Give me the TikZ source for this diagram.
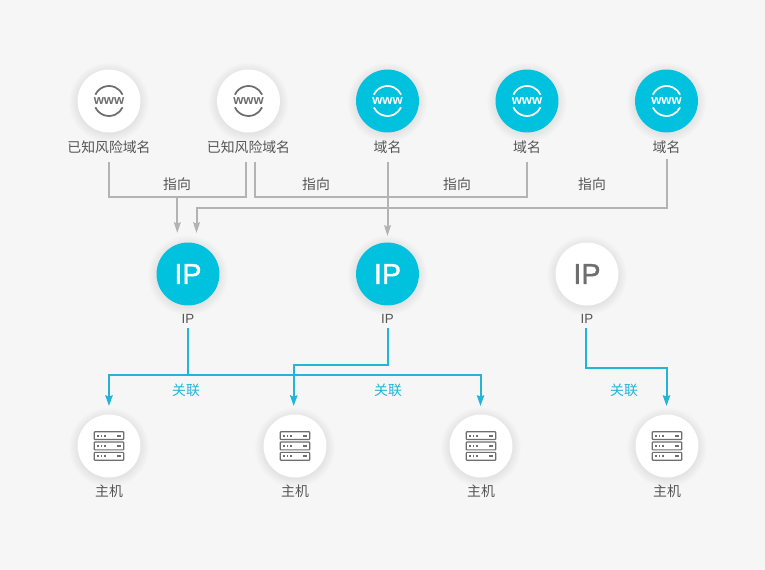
\documentclass[tikz,border=0pt]{standalone}
\usepackage{fontspec}
\setmainfont{Noto Sans CJK SC}
\newfontfamily\latinfont{Liberation Sans}
\newfontfamily\heavyfont[FakeBold=1.2]{Liberation Sans}
\usetikzlibrary{arrows.meta,calc,positioning}
\definecolor{PanelBg}{HTML}{F6F6F6}
\definecolor{NodeCyan}{HTML}{00C1DE}
\definecolor{LinkGray}{HTML}{B3B3B3}
\definecolor{LinkBlue}{HTML}{22B5D8}
\definecolor{LabelGray}{HTML}{555555}
\definecolor{IconGray}{HTML}{6E6E6E}
\tikzset{
  badge/.style={circle,minimum size=47.2pt,inner sep=0pt,fill=white},
  cyanbadge/.style={badge,fill=NodeCyan},
  caption/.style={text=LabelGray,font=\fontsize{10.4}{12}\selectfont,inner sep=0pt,minimum height=13.5pt},
  linktext/.style={font=\fontsize{10.4}{12}\selectfont,inner sep=0pt},
  graylink/.style={draw=LinkGray,line width=1.5pt},
  bluelink/.style={draw=LinkBlue,line width=1.5pt},
  graytip/.style={graylink,-{Stealth[length=8pt,width=5pt,inset=1pt]}},
  bluetip/.style={bluelink,-{Stealth[length=8pt,width=5.5pt,inset=1pt]}},
  pics/wwwicon/.style={code={
    \draw[\col,line width=1.3pt] (155:15) arc[start angle=155,end angle=25,radius=15];
    \draw[\col,line width=1.3pt] (205:15) arc[start angle=205,end angle=335,radius=15];
    \node[text=\col,inner sep=0pt,font=\latinfont\bfseries\fontsize{9.8}{10}\selectfont] {www};
  }},
  pics/servericon/.style={code={
    \foreach \yy in {-10.3,0,10.3}{
      \draw[IconGray,line width=0.9pt,rounded corners=0.5pt] (-14.7,\yy-3.9) rectangle (14.7,\yy+3.9);
      \foreach \dd in {-11,-7.5,-4}{
        \fill[IconGray] (\dd-0.9,\yy-0.9) rectangle (\dd+0.9,\yy+0.9);
      }
      \fill[IconGray] (7.5,\yy-0.9) rectangle (12,\yy+0.9);
    }
  }}
}
\newcommand{\softshadow}[2]{%
  \foreach \rr in {32,33,34,35,36,37,38,39,40}{
    \fill[black,opacity=0.006] (#1,#2+1.5) circle[radius=\rr];
  }
}
\begin{document}
\begin{tikzpicture}[x=0.75pt,y=-0.75pt]

  \useasboundingbox[fill=PanelBg] (0,0) rectangle (765,570);

  % top row
  \foreach \x/\nm/\sty/\col/\lab in {
    109/riskA/badge/IconGray/已知风险域名,
    248.5/riskB/badge/IconGray/已知风险域名,
    387.5/domA/cyanbadge/white/域名,
    527/domB/cyanbadge/white/域名,
    666.5/domC/cyanbadge/white/域名%
  }{
    \softshadow{\x}{101}
    \node[\sty] (\nm) at (\x,101) {};
    \pic at (\nm) {wwwicon};
    \node[caption] (\nm Label) at (\x,147) {\lab};
  }

  % ip row
  \foreach \x/\nm/\sty/\col in {
    188/ipA/cyanbadge/white,
    387.5/ipB/cyanbadge/white,
    587/ipC/badge/IconGray%
  }{
    \softshadow{\x}{274}
    \node[\sty,text=\col,font=\heavyfont\fontsize{21.5}{24}\selectfont] (\nm) at (\x,274) {IP};
    \node[caption,font=\latinfont\fontsize{10}{12}\selectfont] (\nm Label) at (\x,319) {IP};
  }

  % host row
  \foreach \x/\nm in {
    109/hostA,
    295/hostB,
    481/hostC,
    667/hostD%
  }{
    \softshadow{\x}{446}
    \node[badge] (\nm) at (\x,446) {};
    \pic at (\nm) {servericon};
    \node[caption] (\nm Label) at (\x,491) {主机};
  }

  % free ends of the gray links
  \coordinate (riskOutA) at (109,162);
  \coordinate (riskOutB) at (246,162);
  \coordinate (riskOutC) at (255,162);
  \coordinate (domOutA) at (387.5,162);
  \coordinate (domOutB) at (527,162);
  \coordinate (domOutC) at (666.5,159);
  \coordinate (joinA) at (177.3,197.5);
  \coordinate (ipInA) at (177.3,233);
  \coordinate (ipInB) at (196.5,233);
  \coordinate (ipInC) at (387.5,236);

  \draw[graylink] (riskOutA) |- (joinA) -| (riskOutB);
  \draw[graytip] (joinA) -- (ipInA);
  \draw[graylink] (riskOutC) |- (domOutB |- joinA) -- (domOutB);
  \draw[graytip] (domOutC) |- (196.5,207.7) -- (ipInB);
  \draw[graytip] (domOutA) -- (ipInC);

  % free ends of the blue links
  \coordinate (hostInA) at (109,406);
  \coordinate (hostInB) at (293.7,406);
  \coordinate (hostInC) at (480.5,406);
  \coordinate (hostInD) at (666.5,406);

  \draw[bluelink] (ipALabel.south) -- (188,375);
  \draw[bluetip] (188,375) -| (hostInA);
  \draw[bluetip] (188,375) -| (hostInC);
  \draw[bluetip] (ipBLabel.south) |- (293.7,365.2) -- (hostInB);
  \draw[bluetip] (586,328) |- (666.5,368) -- (hostInD);

  % link labels
  \foreach \x/\nm in {177/pointA,316/pointB,457/pointC,592/pointD}{
    \node[linktext,text=LabelGray] (\nm) at (\x,184) {指向};
  }
  \foreach \x/\nm in {186/linkA,388/linkB,624/linkC}{
    \node[linktext,text=LinkBlue] (\nm) at (\x,390) {关联};
  }

\end{tikzpicture}
\end{document}
